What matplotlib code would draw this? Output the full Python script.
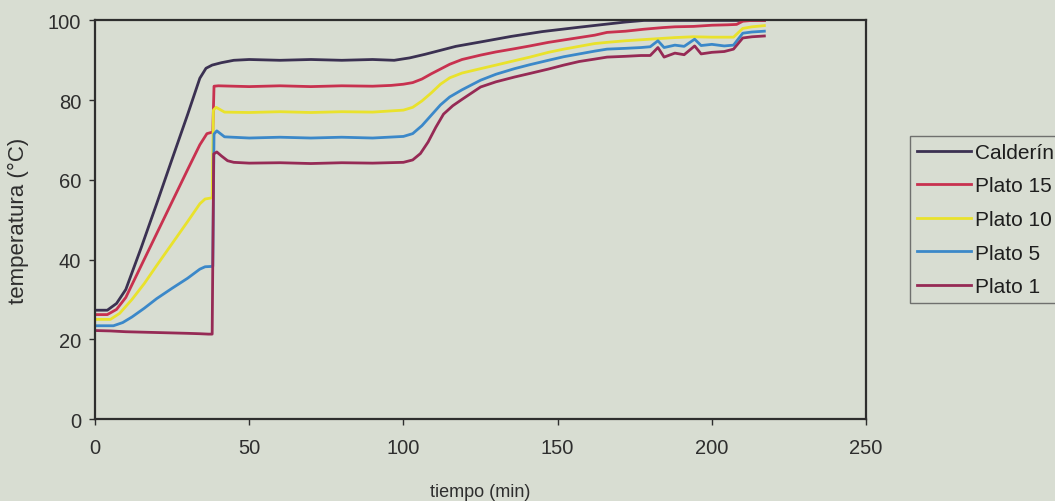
import matplotlib
matplotlib.use("Agg")
import matplotlib.pyplot as plt

plt.rcParams['font.family'] = ['Liberation Sans', 'DejaVu Sans']

# temperature profiles during column start-up (time in min, temperature in degC)
t_calderin = [0, 4, 7, 10, 15, 20, 25, 30, 34, 36, 38, 41, 45, 50, 60, 70, 80, 90, 97,
              102, 107, 112, 117, 125, 135, 145, 157, 165, 172, 178, 190, 200, 210, 217]
calderin = [27.3, 27.3, 29.0, 32.5, 43.0, 54.0, 65.2, 76.3, 85.5, 88.0, 88.8, 89.4, 90.0,
            90.2, 90.0, 90.2, 90.0, 90.2, 90.0, 90.6, 91.5, 92.5, 93.5, 94.6, 96.0, 97.2,
            98.3, 99.0, 99.6, 100, 100, 100, 100, 100]

t_plato15 = [0, 4, 7, 10, 15, 20, 25, 30, 34, 36.3, 38.2, 38.6, 40, 50, 60, 70, 80, 90, 96,
             100, 103, 106, 109, 112, 115, 119, 125, 130, 136, 141, 147, 152, 157, 162, 166,
             172, 178, 184, 188, 194, 200, 205, 208, 210, 213, 217]
plato15 = [26.2, 26.2, 27.5, 30.5, 38.5, 46.5, 54.5, 62.5, 68.8, 71.6, 72.0, 83.5, 83.6,
           83.4, 83.6, 83.4, 83.6, 83.5, 83.7, 84.0, 84.4, 85.3, 86.6, 87.8, 89.0, 90.2,
           91.3, 92.1, 92.9, 93.6, 94.5, 95.1, 95.7, 96.3, 97.0, 97.3, 97.8, 98.2, 98.4,
           98.5, 98.8, 98.9, 99.0, 99.8, 100, 100]

t_plato10 = [0, 5, 8, 12, 16, 20, 25, 30, 34, 35.7, 38.0, 38.4, 39.3, 42, 50, 60, 70, 80, 90,
             100, 103, 106, 109, 112, 115, 119, 125, 130, 136, 141, 147, 152, 157, 162, 166,
             172, 180, 188, 194, 200, 207, 210, 213, 217]
plato10 = [25.0, 25.0, 26.5, 30.0, 34.0, 38.5, 44.0, 49.5, 54.0, 55.2, 55.5, 77.5, 78.2,
           77.0, 76.9, 77.1, 76.9, 77.1, 77.0, 77.5, 78.2, 79.8, 81.8, 84.0, 85.6, 86.8,
           87.9, 88.8, 89.9, 90.8, 92.0, 92.8, 93.5, 94.2, 94.5, 94.9, 95.3, 95.7, 95.9,
           95.8, 95.8, 98.0, 98.4, 98.7]

t_plato5 = [0, 6, 9, 12, 16, 20, 25, 30, 34, 35.7, 38.2, 38.6, 39.5, 42, 50, 60, 70, 80, 90,
            100, 103, 106, 109, 112, 115, 119, 125, 130, 136, 141, 147, 152, 157, 162, 166,
            172, 177, 180, 182.5, 184.5, 188, 191, 194.4, 196.5, 200, 204, 207, 210, 213, 217]
plato5 = [23.4, 23.4, 24.2, 25.6, 27.8, 30.2, 32.8, 35.3, 37.6, 38.2, 38.3, 71.5, 72.3,
          70.8, 70.5, 70.7, 70.5, 70.7, 70.5, 70.9, 71.6, 73.6, 76.2, 78.8, 80.8, 82.6,
          85.0, 86.5, 87.9, 88.9, 90.0, 90.9, 91.6, 92.3, 92.8, 93.0, 93.2, 93.4, 94.9,
          93.2, 93.8, 93.5, 95.3, 93.7, 94.0, 93.6, 93.8, 96.8, 97.1, 97.3]

t_plato1 = [0, 5, 10, 15, 20, 25, 30, 34, 36.8, 38.0, 38.5, 39.5, 41, 43, 45, 50, 60, 70, 80,
            90, 100, 103, 105.5, 108, 110.5, 113, 116, 119, 125, 130, 136, 141, 147, 152,
            157, 162, 166, 172, 177, 180, 182.5, 184.5, 188, 191, 194.4, 196.5, 200, 204,
            207, 210, 213, 217]
plato1 = [22.2, 22.1, 21.9, 21.8, 21.7, 21.6, 21.5, 21.4, 21.3, 21.3, 66.5, 67.0, 66.0,
          64.8, 64.4, 64.2, 64.3, 64.1, 64.3, 64.2, 64.4, 65.0, 66.6, 69.5, 73.2, 76.5,
          78.6, 80.2, 83.3, 84.6, 85.8, 86.7, 87.8, 88.8, 89.7, 90.3, 90.8, 91.0, 91.2,
          91.2, 93.2, 90.8, 91.8, 91.4, 93.6, 91.6, 92.0, 92.2, 92.8, 95.6, 95.9, 96.1]

paper = '#d8ddd2'
ink = '#2e2e2e'

fig = plt.figure(figsize=(10.55, 5.02), dpi=100, facecolor=paper)
ax = fig.add_axes([0.0900, 0.1633, 0.7310, 0.7940])
ax.set_facecolor(paper)

lw = 2.0
ax.plot(t_calderin, calderin, color='#3b3152', lw=lw, label='Calderín')
ax.plot(t_plato15, plato15, color='#c8314f', lw=lw, label='Plato 15')
ax.plot(t_plato10, plato10, color='#e9e22c', lw=lw, label='Plato 10')
ax.plot(t_plato5, plato5, color='#3b88c9', lw=lw, label='Plato 5')
ax.plot(t_plato1, plato1, color='#962a55', lw=lw, label='Plato 1')

ax.set_xlim(0, 250)
ax.set_ylim(0, 100)
ax.set_xticks([0, 50, 100, 150, 200, 250])
ax.set_yticks([0, 20, 40, 60, 80, 100])
for s in ax.spines.values():
    s.set_color(ink)
    s.set_linewidth(1.6)
ax.tick_params(direction='out', length=4, width=1, color=ink, labelcolor=ink,
               labelsize=14.5)
ax.tick_params(axis='x', pad=10)
ax.tick_params(axis='y', pad=6)

ax.set_xlabel('tiempo (min)', fontsize=13, color=ink)
ax.set_ylabel('temperatura (°C)', fontsize=16, color=ink)
ax.xaxis.set_label_coords(0.5, -0.16)
ax.yaxis.set_label_coords(-0.085, 0.5)

leg = fig.legend(loc='upper left', bbox_to_anchor=(910 / 1055, 1 - 137 / 502),
                 fontsize=15, frameon=True, fancybox=False, borderaxespad=0,
                 borderpad=0.33, handlelength=2.6, handletextpad=0.2,
                 labelspacing=0.7)
leg.get_frame().set_facecolor(paper)
leg.get_frame().set_edgecolor('#555555')
leg.get_frame().set_linewidth(1.0)
for txt in leg.get_texts():
    txt.set_color('#1e1e1e')

fig.savefig('out.png', dpi=100, facecolor=paper)
